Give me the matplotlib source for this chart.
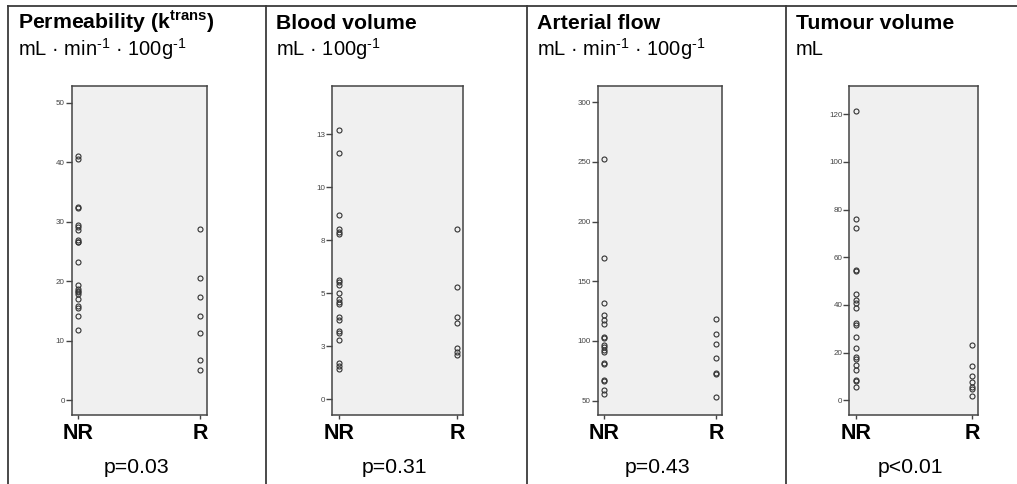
import matplotlib
matplotlib.use("Agg")
import matplotlib.pyplot as plt
from matplotlib.lines import Line2D

plt.rcParams["font.family"] = ["Liberation Sans", "DejaVu Sans"]
plt.rcParams["mathtext.fontset"] = "custom"
plt.rcParams["mathtext.rm"] = "Liberation Sans"
plt.rcParams["mathtext.bf"] = "Liberation Sans:bold"

W, H = 1017, 484

groups = ["NR", "R"]

titles = [r"Permeability (k$^{\mathbf{trans}}$)", "Blood volume",
          "Arterial flow", "Tumour volume"]
units = [r"mL · min$^{\text{-1}}$ · 100g$^{\text{-1}}$", r"mL · 100g$^{\text{-1}}$",
         r"mL · min$^{\text{-1}}$ · 100g$^{\text{-1}}$", "mL"]
pvals = ["p=0.03", "p=0.31", "p=0.43", "p<0.01"]

perm_nr = [41.0, 40.5, 32.5, 32.3, 29.5, 29.1, 28.6, 26.9, 26.6, 26.5, 23.2,
           19.3, 18.6, 18.4, 18.2, 17.8, 17.0, 15.9, 15.5, 14.1, 11.8]
perm_r = [28.7, 20.5, 17.3, 14.2, 11.3, 6.7, 5.0]

blood_nr = [12.72, 11.62, 8.71, 8.02, 7.91, 7.80, 5.61, 5.53, 5.39, 5.01, 4.72,
            4.57, 4.51, 3.90, 3.73, 3.22, 3.13, 2.81, 1.70, 1.59, 1.42]
blood_r = [8.02, 5.31, 3.90, 3.61, 2.41, 2.25, 2.09]

flow_nr = [252.2, 169.8, 131.8, 122.0, 117.8, 114.0, 103.4, 102.3, 96.7, 94.7,
           92.2, 90.8, 81.3, 80.5, 67.6, 66.5, 59.2, 55.4]
flow_r = [118.7, 105.9, 97.7, 85.5, 73.2, 72.4, 53.1]

tumour_nr = [121.3, 76.0, 72.3, 54.7, 54.3, 44.6, 42.1, 41.0, 38.7, 32.6, 31.6,
             26.7, 21.8, 18.0, 17.5, 14.7, 12.7, 8.5, 8.0, 5.6]
tumour_r = [23.3, 14.4, 10.2, 7.6, 5.6, 4.7, 1.7]

series = [(perm_nr, perm_r), (blood_nr, blood_r), (flow_nr, flow_r),
          (tumour_nr, tumour_r)]

yticks = [[0, 10, 20, 30, 40, 50],
          [0, 2.5, 5, 7.5, 10, 12.5],
          [50, 100, 150, 200, 250, 300],
          [0, 20, 40, 60, 80, 100, 120]]
ytick_labels = [["0", "10", "20", "30", "40", "50"],
                ["0", "3", "5", "8", "10", "13"],
                ["50", "100", "150", "200", "250", "300"],
                ["0", "20", "40", "60", "80", "100", "120"]]
ylims = [(-2.5, 52.8), (-0.74, 14.78), (38, 313.6), (-6.2, 131.9)]

# layout in pixels
cell_left = [8, 265.7, 526.7, 785.7]
ax_x = [(71.7, 207), (332.3, 463.3), (597.7, 722.3), (849.3, 978.3)]
ax_top, ax_bot = 86, 415

fig = plt.figure(figsize=(W / 100, H / 100), dpi=100)
fig.patch.set_facecolor("white")

frame = "#3a3a3a"
fig.add_artist(Line2D([8 / W, 1], [1 - 5.7 / H] * 2, color=frame, lw=1.3))
for xl in cell_left:
    fig.add_artist(Line2D([xl / W] * 2, [0, 1 - 5.7 / H], color=frame, lw=1.3))

for i in range(4):
    x0, x1 = ax_x[i]
    ax = fig.add_axes([x0 / W, 1 - ax_bot / H, (x1 - x0) / W, (ax_bot - ax_top) / H])
    ax.set_facecolor("#f0f0f0")
    nr, r = series[i]
    ax.plot([0] * len(nr), nr, "o", ms=3.6, mfc="none", mec="#333333", mew=0.8)
    ax.plot([1] * len(r), r, "o", ms=3.6, mfc="none", mec="#333333", mew=0.8)
    ax.set_xlim(-0.054, 1.054)
    ax.set_ylim(*ylims[i])
    ax.set_yticks(yticks[i])
    ax.set_yticklabels(ytick_labels[i])
    ax.set_xticks([0, 1])
    ax.set_xticklabels(groups, fontsize=15.5, fontweight="bold")
    ax.tick_params(axis="y", length=4, width=1, color="#444444", labelsize=5.8,
                   labelcolor="#444444", pad=1)
    ax.tick_params(axis="x", length=3, width=1, color="#444444", pad=3)
    for s in ax.spines.values():
        s.set_color("#444444")
        s.set_linewidth(1.1)

    fig.text((cell_left[i] + 10) / W, 1 - 29.3 / H, titles[i], fontsize=15.3,
             fontweight="bold", ha="left", va="baseline")
    fig.text((cell_left[i] + 10) / W, 1 - 55.3 / H, units[i], fontsize=14.5,
             ha="left", va="baseline")
    fig.text((x0 + x1) / 2 / W - 3 / W, 1 - 473.3 / H, pvals[i], fontsize=15.3,
             ha="center", va="baseline")

fig.savefig("out.png", dpi=100)
